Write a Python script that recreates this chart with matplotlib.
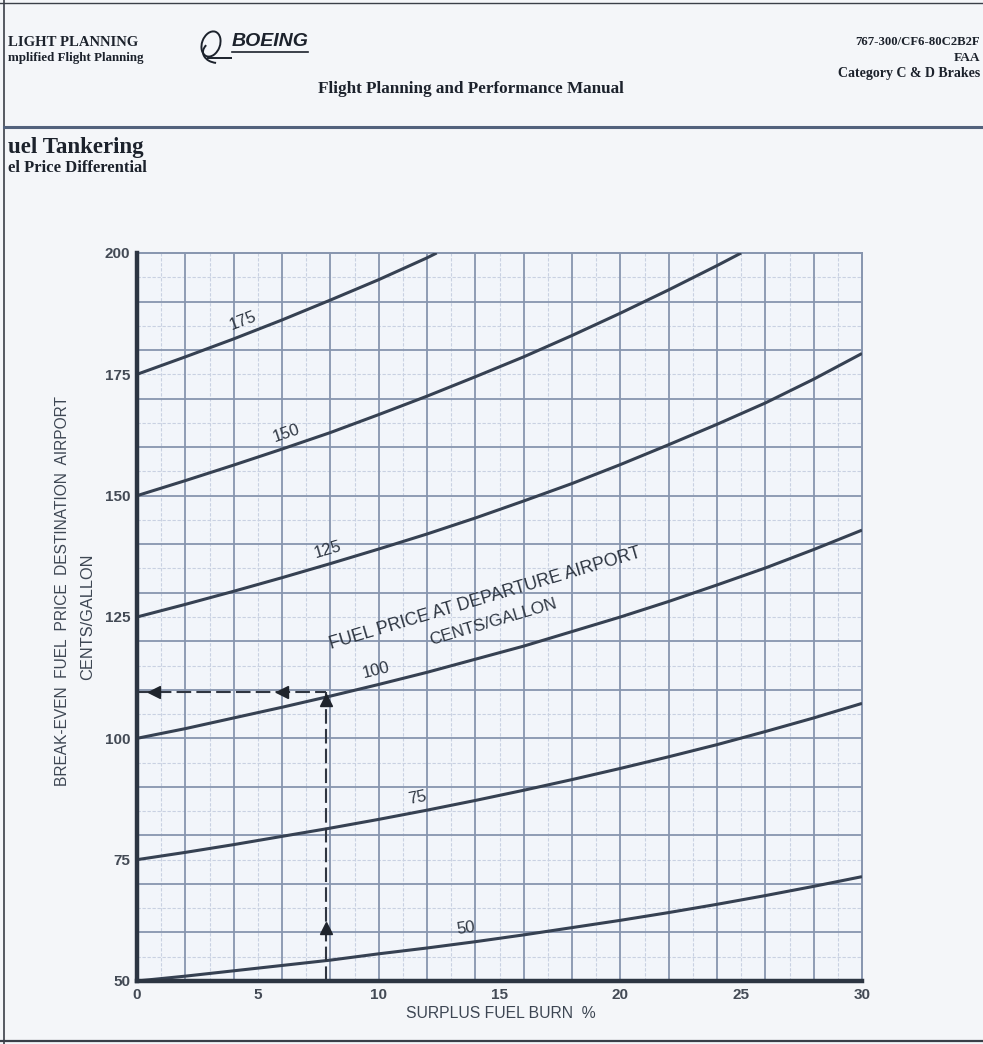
import numpy as np
import matplotlib
matplotlib.use("Agg")
import matplotlib.pyplot as plt
from matplotlib.patches import Arc, Ellipse

# ---------------- data ----------------
X_GRID = [0, 2, 4, 6, 8, 10, 12, 14, 16, 18, 20, 22, 24, 26, 28, 30]
PRICE_50 = [50, 51.0, 52.1, 53.2, 54.3, 55.6, 56.8, 58.1, 59.5, 61.0, 62.5, 64.1, 65.8, 67.6, 69.5, 71.5]
PRICE_75 = [75, 76.5, 78.1, 79.8, 81.5, 83.3, 85.2, 87.2, 89.3, 91.5, 93.8, 96.2, 98.7, 101.4, 104.2, 107.2]
PRICE_100 = [100, 102.0, 104.2, 106.4, 108.7, 111.1, 113.6, 116.3, 119.0, 122.0, 125.0, 128.2, 131.6, 135.1, 138.9, 142.9]
PRICE_125 = [125, 127.6, 130.3, 133.1, 136.0, 139.0, 142.1, 145.4, 148.9, 152.5, 156.4, 160.5, 164.7, 169.1, 174.0, 179.3]
X_150 = [0, 2, 4, 6, 8, 10, 12, 14, 16, 18, 20, 22, 24, 25]
PRICE_150 = [150, 153.1, 156.3, 159.6, 163.0, 166.7, 170.5, 174.5, 178.6, 183.0, 187.6, 192.4, 197.4, 200]
X_175 = [0, 2, 4, 6, 8, 10, 12, 12.4]
PRICE_175 = [175, 178.6, 182.3, 186.2, 190.3, 194.5, 199.0, 200]

CURVE_NAMES = ["50", "75", "100", "125", "150", "175"]
CURVES = {
    "50": (X_GRID, PRICE_50),
    "75": (X_GRID, PRICE_75),
    "100": (X_GRID, PRICE_100),
    "125": (X_GRID, PRICE_125),
    "150": (X_150, PRICE_150),
    "175": (X_175, PRICE_175),
}

# example guide (dashed arrows)
GUIDE_X = 7.8
GUIDE_Y = 109.5

X_TICKS = [0, 5, 10, 15, 20, 25, 30]
Y_TICKS = [50, 75, 100, 125, 150, 175, 200]

# ---------------- layout / style ----------------
W, H = 983, 1044
PAGE = "#f4f6f9"
INK = "#2c3542"
GRID_MAJ = "#8795ae"
GRID_MIN = "#c9d1e2"
CURVE_C = "#364152"
TXT = "#3d4653"
HDR = "#1c222c"

LABEL_X = {"175": 4.4, "150": 6.2, "125": 7.9, "100": 9.9, "75": 11.6, "50": 13.6}
LABEL_OFF = 3.0

fig = plt.figure(figsize=(W / 100, H / 100), dpi=100, facecolor=PAGE)

def fx(px):
    return px / W

def fy(py):
    return 1 - py / H

# page frame lines
fig.add_artist(plt.Line2D([fx(4), fx(4)], [0, 1], color="#3a3f48", lw=1.2))
fig.add_artist(plt.Line2D([0, 1], [fy(3), fy(3)], color="#3a3f48", lw=1.0))
fig.add_artist(plt.Line2D([0, 1], [fy(1041), fy(1041)], color="#3a3f48", lw=1.6))
# header rule
fig.add_artist(plt.Line2D([fx(4), 1], [fy(127), fy(127)], color="#52627d", lw=2.2))

serif = ["Liberation Serif", "DejaVu Serif"]
fig.text(fx(8), fy(42), "LIGHT PLANNING", family=serif, weight="bold", fontsize=10.6,
         color=HDR, va="center", ha="left")
fig.text(fx(8), fy(58), "mplified Flight Planning", family=serif, weight="bold", fontsize=9.4,
         color=HDR, va="center", ha="left")
fig.text(fx(980), fy(42), "767-300/CF6-80C2B2F", family=serif, weight="bold", fontsize=9.2,
         color=HDR, va="center", ha="right")
fig.text(fx(980), fy(58), "FAA", family=serif, weight="bold", fontsize=9.6,
         color=HDR, va="center", ha="right")
fig.text(fx(980), fy(73), "Category C & D Brakes", family=serif, weight="bold", fontsize=10,
         color=HDR, va="center", ha="right")
fig.text(fx(471), fy(89), "Flight Planning and Performance Manual", family=serif, weight="bold",
         fontsize=12.3, color=HDR, va="center", ha="center")
fig.text(fx(8), fy(148), "uel Tankering", family=serif, weight="bold", fontsize=16.5,
         color=HDR, va="center", ha="left")
fig.text(fx(8), fy(168), "el Price Differential", family=serif, weight="bold", fontsize=12,
         color=HDR, va="center", ha="left")

# Boeing logo
fig.text(fx(232), fy(42), "BOEING", family=["Liberation Sans", "DejaVu Sans"], weight="bold",
         style="italic", fontsize=14, color=HDR, va="center", ha="left")
lax = fig.add_axes([fx(196), fy(64), fx(36), 36 / H])
lax.set_xlim(0, 36)
lax.set_ylim(0, 36)
lax.set_aspect("equal")
lax.axis("off")
lax.add_patch(Ellipse((15, 20), 18, 26, angle=-20, fill=False, ec=HDR, lw=1.4))
lax.add_patch(Arc((22, 12), 30, 22, theta1=150, theta2=260, ec=HDR, lw=1.4))
lax.plot([12, 36], [6, 6], color=HDR, lw=1.4)
fig.add_artist(plt.Line2D([fx(232), fx(308)], [fy(52), fy(52)], color=HDR, lw=1.2))

# ---------------- chart ----------------
ax = fig.add_axes([fx(137), fy(981), fx(862 - 137), (981 - 253) / H])
ax.set_facecolor("#f2f5fa")
ax.set_xlim(0, 30)
ax.set_ylim(50, 200)

for xv in np.arange(1, 30, 2):
    ax.axvline(xv, color=GRID_MIN, lw=0.8, ls=(0, (3, 1.5)), zorder=1)
for yv in np.arange(55, 200, 10):
    ax.axhline(yv, color=GRID_MIN, lw=0.8, ls=(0, (3, 1.5)), zorder=1)
for xv in np.arange(2, 30, 2):
    ax.axvline(xv, color=GRID_MAJ, lw=1.3, zorder=2)
for yv in np.arange(60, 200, 10):
    ax.axhline(yv, color=GRID_MAJ, lw=1.3, zorder=2)

for s in ["top", "right"]:
    ax.spines[s].set_color(GRID_MAJ)
    ax.spines[s].set_linewidth(1.4)
for s in ["left", "bottom"]:
    ax.spines[s].set_color(INK)
    ax.spines[s].set_linewidth(3.2)
    ax.spines[s].set_zorder(6)

ax.set_xticks(X_TICKS)
ax.set_yticks(Y_TICKS)
ax.set_xticklabels([str(v) for v in X_TICKS])
ax.set_yticklabels([str(v) for v in Y_TICKS])
ax.tick_params(length=0, pad=5, labelsize=11, labelcolor="#434a55")
for lab in ax.get_xticklabels() + ax.get_yticklabels():
    lab.set_fontweight("bold")
    lab.set_family(["Liberation Sans", "DejaVu Sans"])

# curves
for name in CURVE_NAMES:
    xs, ys = CURVES[name]
    ax.plot(xs, ys, color=CURVE_C, lw=2.2, zorder=4, solid_capstyle="butt")

sans = ["Liberation Sans", "DejaVu Sans"]

# curve labels rotated along the curves
fig.canvas.draw()
for name in CURVE_NAMES:
    xs, ys = CURVES[name]
    lx = LABEL_X[name]
    ly = np.interp(lx, xs, ys)
    p1 = ax.transData.transform((lx - 1, np.interp(lx - 1, xs, ys)))
    p2 = ax.transData.transform((lx + 1, np.interp(lx + 1, xs, ys)))
    ang = np.degrees(np.arctan2(p2[1] - p1[1], p2[0] - p1[0]))
    ax.text(lx, ly + LABEL_OFF, name, rotation=ang, rotation_mode="anchor",
            ha="center", va="center", fontsize=12, color="#2e3642",
            family=sans, zorder=5)

# annotation text
ang_note = 16.5
ax.text(14.4, 128.8, "FUEL PRICE AT DEPARTURE AIRPORT", rotation=ang_note,
        rotation_mode="anchor", ha="center", va="center", fontsize=12.8,
        color="#2e3642", family=sans, zorder=5)
ax.text(14.75, 124.0, "CENTS/GALLON", rotation=ang_note, rotation_mode="anchor",
        ha="center", va="center", fontsize=12.3, color="#2e3642",
        family=sans, zorder=5)

# dashed guide with arrowheads
ax.plot([0, GUIDE_X], [GUIDE_Y, GUIDE_Y], color="#2f3540", lw=1.5, dashes=[7, 2.5], zorder=5)
ax.plot([GUIDE_X, GUIDE_X], [50, GUIDE_Y], color="#2f3540", lw=1.5, dashes=[7, 2.5], zorder=5)
ax.plot([0.7, 6.0], [GUIDE_Y, GUIDE_Y], ls="none", marker="<", ms=8, color="#1f242c", zorder=6)
ax.plot([GUIDE_X, GUIDE_X], [61, 107.8], ls="none", marker="^", ms=8, color="#1f242c", zorder=6)

# axis titles
fig.text(fx(501), fy(1013), "SURPLUS FUEL BURN  %", ha="center", va="center",
         fontsize=11.3, color=TXT, family=sans)
fig.text(fx(63), fy(591), "BREAK-EVEN  FUEL  PRICE  DESTINATION  AIRPORT", rotation=90,
         ha="center", va="center", fontsize=11.2, color=TXT, family=sans)
fig.text(fx(88), fy(617), "CENTS/GALLON", rotation=90, ha="center", va="center",
         fontsize=11.8, color=TXT, family=sans)

fig.savefig("out.png", dpi=100, facecolor=PAGE)
